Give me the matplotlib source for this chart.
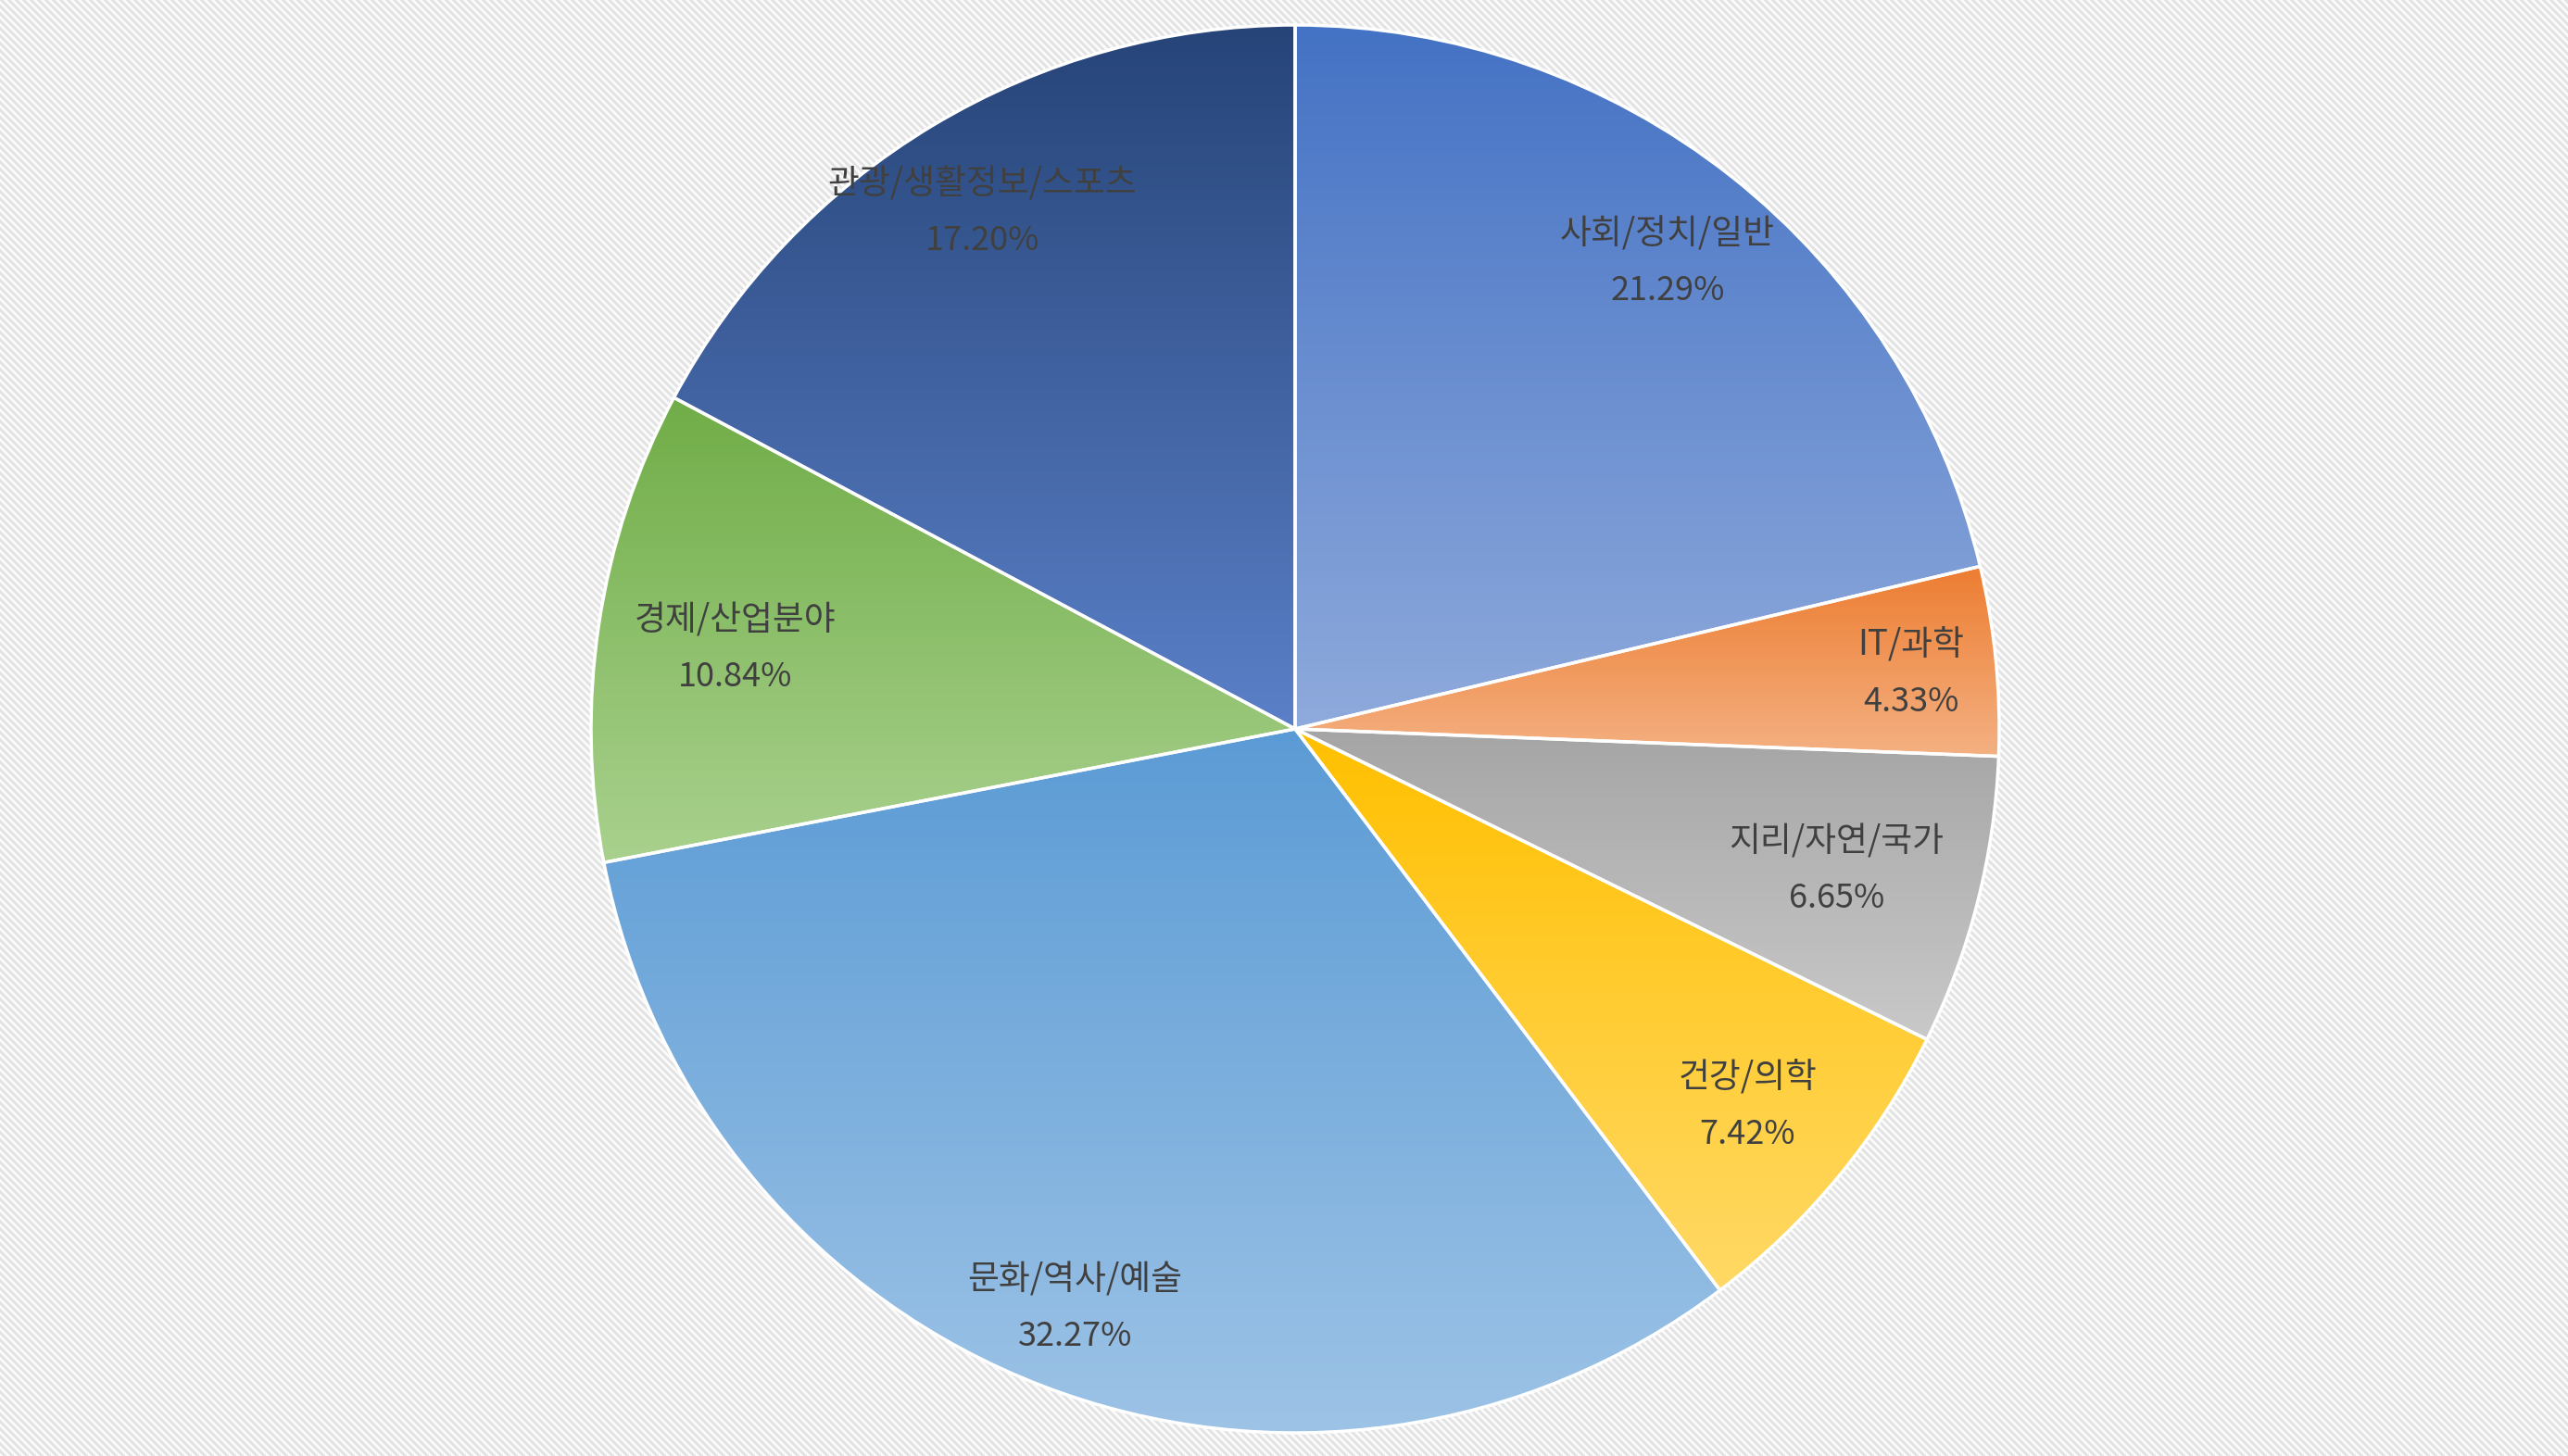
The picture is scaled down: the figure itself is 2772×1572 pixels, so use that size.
import matplotlib
matplotlib.use("Agg")
import matplotlib.pyplot as plt
import numpy as np
from matplotlib.colors import to_rgb

plt.rcParams['font.family'] = ['Noto Sans CJK KR', 'DejaVu Sans']

# data
categories = ['사회/정치/일반', 'IT/과학', '지리/자연/국가', '건강/의학',
              '문화/역사/예술', '경제/산업분야', '관광/생활정보/스포츠']
shares = [21.29, 4.33, 6.65, 7.42, 32.27, 10.84, 17.20]

# slice gradient colours (top -> bottom)
top_colors = ['#4472C4', '#ED7D31', '#A5A5A5', '#FFC000', '#5B9BD5', '#70AD47', '#264478']
bottom_colors = ['#8FAADC', '#F4B183', '#C9C9C9', '#FFD966', '#9DC3E6', '#A9D18E', '#5B80C8']
label_radius = [0.853, 0.879, 0.793, 0.833, 0.874, 0.804, 0.863]

W, H, dpi = 2772, 1572, 100
fig = plt.figure(figsize=(W / dpi, H / dpi), dpi=dpi)

# striped background
bg = fig.add_axes([0, 0, 1, 1])
rows, cols = np.mgrid[0:H, 0:W]
stripe = ((cols - rows) % 8) < 4
img = np.where(stripe[..., None], to_rgb('#E3E3E3'), to_rgb('#FAFAFA'))
bg.imshow(img, interpolation='nearest', aspect='auto')
bg.axis('off')

R = 760
cx, cy = 1398, 787
ax = fig.add_axes([(cx - R) / W, (H - cy - R) / H, 2 * R / W, 2 * R / H])
wedges, _ = ax.pie(shares, startangle=90, counterclock=False, radius=1,
                   wedgeprops=dict(edgecolor='white', linewidth=2.5, facecolor='none'))

for w, c0, c1 in zip(wedges, top_colors, bottom_colors):
    ext = w.get_path().get_extents()
    t = np.linspace(0, 1, 256)[:, None, None]
    grad = (1 - t) * np.array(to_rgb(c0)) + t * np.array(to_rgb(c1))
    im = ax.imshow(grad, extent=[ext.x0, ext.x1, ext.y0, ext.y1], origin='upper',
                   aspect='auto', interpolation='bilinear', zorder=0)
    im.set_clip_path(w)
    w.set_zorder(2)

# labels
start = 90.0
for name, v, lr in zip(categories, shares, label_radius):
    mid = np.deg2rad(start - v * 3.6 / 2)
    start -= v * 3.6
    x, y = lr * np.cos(mid), lr * np.sin(mid)
    ax.annotate(name, xy=(x, y), xytext=(0, 18.5), textcoords='offset points',
                ha='center', va='center', fontsize=26.5, color='#404040', zorder=5)
    ax.annotate(f'{v:.2f}%', xy=(x, y), xytext=(0, -25.5), textcoords='offset points',
                ha='center', va='center', fontsize=26, color='#404040', zorder=5)

ax.set_xlim(-1, 1)
ax.set_ylim(-1, 1)
ax.set_aspect('equal')
ax.axis('off')

fig.savefig('out.png', dpi=dpi)
